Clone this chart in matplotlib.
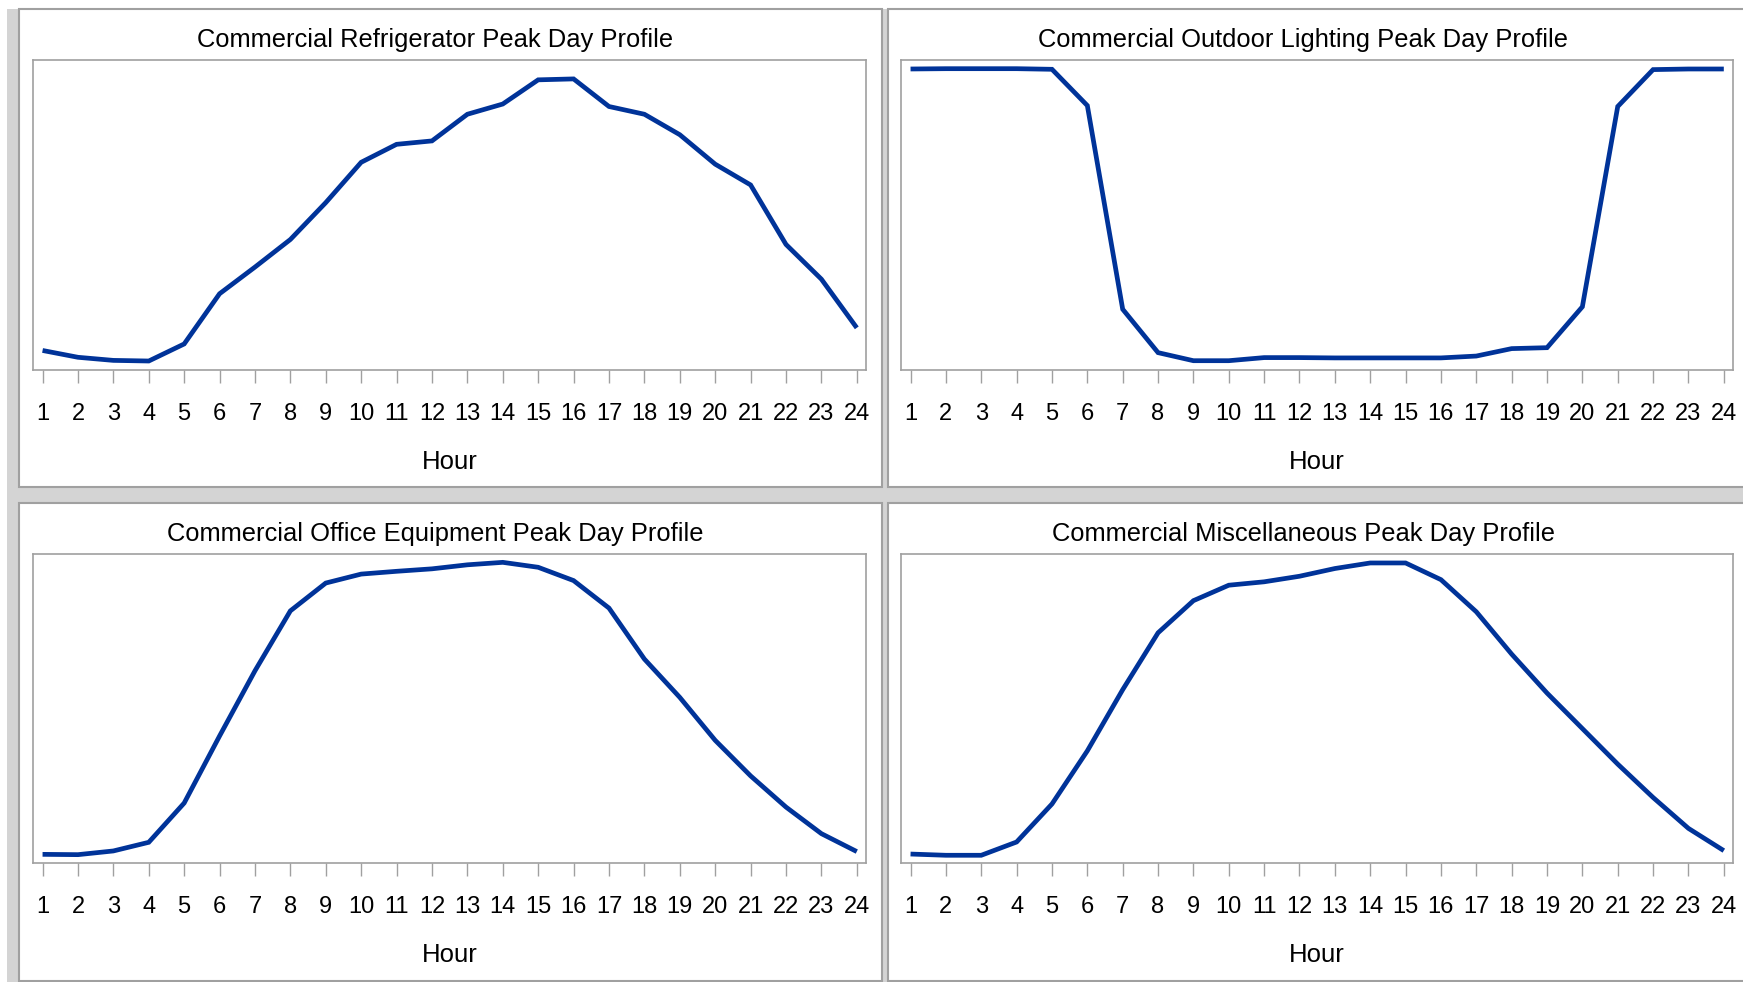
import matplotlib
matplotlib.use("Agg")
import matplotlib.pyplot as plt
from matplotlib.patches import Rectangle

plt.rcParams['font.family'] = ['Liberation Sans', 'DejaVu Sans']

hours = list(range(1, 25))
hour_labels = [str(h) for h in hours]

titles = [
    "Commercial Refrigerator Peak Day Profile",
    "Commercial Outdoor Lighting Peak Day Profile",
    "Commercial Office Equipment Peak Day Profile",
    "Commercial Miscellaneous Peak Day Profile",
]

refrigerator = [0.063, 0.041, 0.031, 0.029, 0.084, 0.246, 0.332, 0.421, 0.540, 0.670,
                0.728, 0.739, 0.825, 0.858, 0.936, 0.939, 0.850, 0.825, 0.759, 0.664,
                0.597, 0.405, 0.293, 0.136]
outdoor_lighting = [0.971, 0.972, 0.972, 0.972, 0.970, 0.853, 0.196, 0.056, 0.030, 0.030,
                    0.040, 0.040, 0.039, 0.039, 0.039, 0.039, 0.045, 0.069, 0.072, 0.204,
                    0.850, 0.969, 0.971, 0.971]
office_equipment = [0.028, 0.027, 0.039, 0.067, 0.194, 0.411, 0.622, 0.816, 0.906, 0.935,
                    0.944, 0.952, 0.965, 0.973, 0.957, 0.914, 0.825, 0.660, 0.536, 0.397,
                    0.282, 0.181, 0.095, 0.037]
miscellaneous = [0.029, 0.025, 0.025, 0.068, 0.191, 0.363, 0.561, 0.745, 0.849, 0.899,
                 0.910, 0.928, 0.953, 0.971, 0.971, 0.917, 0.813, 0.676, 0.550, 0.435,
                 0.320, 0.212, 0.112, 0.040]

series = [refrigerator, outdoor_lighting, office_equipment, miscellaneous]

W, H = 1743, 982
fig = plt.figure(figsize=(W / 100, H / 100), dpi=100)
fig.patch.set_facecolor('white')

LINE = '#003399'
FRAME = '#a0a0a0'
GAP = '#d4d4d4'

def px_rect(x0, y0, x1, y1, **kw):
    # pixel coords from top-left
    return Rectangle((x0 / W, 1 - y1 / H), (x1 - x0) / W, (y1 - y0) / H,
                     transform=fig.transFigure, **kw)

# gray background behind panels
fig.patches.append(px_rect(7, 9, W + 5, H + 5, facecolor=GAP, edgecolor='none', zorder=0))

panels = [(19, 9, 882, 487), (888, 9, W + 10, 487),
          (19, 503, 882, H - 1), (888, 503, W + 10, H - 1)]
for (x0, y0, x1, y1) in panels:
    fig.patches.append(px_rect(x0, y0, x1, y1, facecolor='white', edgecolor=FRAME,
                               linewidth=1.5, zorder=1))

axes_px = [(33, 60, 866, 370), (901, 60, 1733, 370),
           (33, 554, 866, 863), (901, 554, 1733, 863)]
title_base = [47, 47, 541, 541]

for i, (x0, y0, x1, y1) in enumerate(axes_px):
    ax = fig.add_axes([x0 / W, 1 - y1 / H, (x1 - x0) / W, (y1 - y0) / H])
    ax.set_zorder(2)
    ax.plot(hours, series[i], color=LINE, linewidth=3.4, solid_joinstyle='miter',
            solid_capstyle='butt')
    ax.set_xlim(0.73, 24.26)
    ax.set_ylim(0, 1)
    ax.set_yticks([])
    ax.set_xticks(hours)
    ax.set_xticklabels(hour_labels)
    ax.tick_params(axis='x', direction='out', length=9.5, width=1.0, color=FRAME,
                   pad=14, labelsize=17, labelcolor='black')
    for s in ax.spines.values():
        s.set_color(FRAME)
        s.set_linewidth(1.2)
    ax.set_xlabel('Hour', fontsize=18.5, va='center')
    ax.xaxis.set_label_coords(0.5, -(92.0 / (y1 - y0)))
    cx = (x0 + x1) / 2 - 14
    fig.text(cx / W, 1 - title_base[i] / H, titles[i], ha='center', va='baseline',
             fontsize=18.4, color='black')

fig.savefig('out.png', dpi=100, facecolor='white')
